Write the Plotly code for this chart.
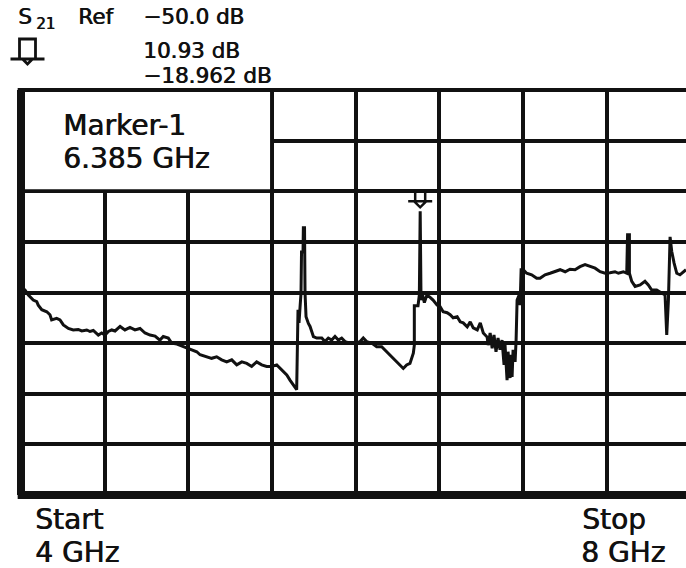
import plotly.graph_objects as go

# ---- data (S21 trace, 4-8 GHz) ----
freq_ghz = [
    4.000, 4.024, 4.044, 4.073, 4.094, 4.103, 4.124, 4.154, 4.173, 4.183,
    4.213, 4.233, 4.253, 4.283, 4.312, 4.342, 4.363, 4.393, 4.412, 4.432,
    4.462, 4.482, 4.502, 4.522, 4.542, 4.562, 4.592, 4.621, 4.651, 4.681,
    4.711, 4.741, 4.771, 4.801, 4.830, 4.850, 4.880, 4.900, 4.932, 4.970,
    5.010, 5.050, 5.070, 5.110, 5.139, 5.169, 5.199, 5.229, 5.259, 5.289,
    5.319, 5.349, 5.378, 5.408, 5.438, 5.468, 5.498, 5.528, 5.558, 5.588,
    5.607, 5.627, 5.647, 5.655, 5.661, 5.667, 5.673, 5.676, 5.685, 5.687,
    5.694, 5.697, 5.703, 5.717, 5.727, 5.737, 5.747, 5.767, 5.797, 5.816,
    5.836, 5.856, 5.876, 5.896, 5.916, 5.936, 5.966, 5.996, 6.026, 6.045,
    6.065, 6.095, 6.125, 6.155, 6.185, 6.215, 6.245, 6.265, 6.284, 6.304,
    6.324, 6.344, 6.350, 6.350, 6.372, 6.380, 6.385, 6.390, 6.398, 6.410,
    6.425, 6.443, 6.462, 6.486, 6.504, 6.522, 6.546, 6.564, 6.582, 6.606,
    6.624, 6.642, 6.666, 6.684, 6.702, 6.726, 6.744, 6.762, 6.785, 6.791,
    6.803, 6.815, 6.826, 6.838, 6.850, 6.862, 6.874, 6.886, 6.892, 6.904,
    6.910, 6.922, 6.928, 6.934, 6.940, 6.952, 6.958, 6.964, 6.976, 6.982,
    6.988, 7.001, 7.021, 7.051, 7.081, 7.101, 7.131, 7.161, 7.191, 7.221,
    7.251, 7.280, 7.310, 7.340, 7.370, 7.400, 7.430, 7.460, 7.490, 7.519,
    7.549, 7.569, 7.599, 7.619, 7.624, 7.635, 7.635, 7.649, 7.669, 7.699,
    7.728, 7.748, 7.768, 7.798, 7.828, 7.848, 7.858, 7.868, 7.878, 7.888,
    7.902, 7.918, 7.937, 7.957, 7.973,
]
s21_db = [
    -33.9, -34.5, -35.5, -36.5, -36.8, -37.5, -38.4, -38.8, -39.4, -40.4,
    -40.1, -40.4, -41.4, -42.1, -42.4, -42.3, -42.6, -42.4, -42.7, -42.5,
    -43.4, -43.0, -43.4, -42.7, -42.4, -42.6, -41.7, -42.4, -41.9, -42.4,
    -42.1, -43.0, -43.4, -43.6, -44.4, -43.7, -44.0, -45.0, -45.2, -45.7,
    -46.3, -46.7, -47.3, -47.7, -48.0, -47.7, -48.3, -48.7, -48.3, -49.3,
    -48.7, -49.0, -49.6, -48.7, -49.3, -49.6, -49.6, -49.3, -50.3, -51.3,
    -52.3, -53.3, -54.2, -38.4, -41.0, -38.0, -35.1, -27.0, -27.0, -22.2,
    -22.2, -35.1, -39.8, -41.1, -41.7, -42.7, -43.7, -44.0, -44.0, -44.7,
    -44.0, -44.4, -43.7, -44.4, -44.0, -44.7, -45.0, -45.0, -44.7, -44.0,
    -44.7, -45.0, -45.7, -45.7, -46.7, -47.7, -48.7, -49.3, -50.0, -49.3,
    -49.0, -47.0, -45.4, -37.6, -37.6, -35.5, -18.962, -36.5, -35.3, -37.0,
    -35.5, -35.9, -36.5, -37.5, -37.8, -38.8, -39.0, -39.4, -40.0, -39.8,
    -40.8, -41.0, -41.8, -40.8, -42.0, -42.4, -41.0, -43.0, -43.8, -45.4,
    -43.0, -46.0, -43.4, -46.7, -44.0, -46.3, -44.4, -49.3, -45.4, -52.3,
    -46.7, -51.9, -47.3, -51.7, -46.3, -48.7, -44.4, -36.5, -35.5, -37.5,
    -30.5, -30.5, -31.2, -31.5, -32.2, -32.2, -31.5, -31.2, -30.9, -30.5,
    -30.9, -30.4, -30.5, -29.9, -29.5, -29.9, -30.2, -30.9, -31.2, -31.1,
    -30.9, -31.2, -30.9, -31.2, -23.6, -23.6, -31.2, -32.8, -33.8, -33.5,
    -32.8, -33.5, -34.5, -34.5, -35.1, -35.5, -43.4, -36.5, -24.0, -26.9,
    -29.2, -31.2, -31.5, -30.9, -30.5,
]

marker_freq = 6.385
marker_db = -18.962
header_lines = ["−50.0 dB", "10.93 dB", "−18.962 dB"]
marker_lines = ["Marker-1", "6.385 GHz"]
start_label = ["Start", "4 GHz"]
stop_label = ["Stop", "8 GHz"]

# ---- layout geometry ----
W, H = 686, 568
L, T, B = 21, 90, 73
PW, PH = W - L, H - T - B
GHZ_PER_PX = 4.0 / 669.5
x_range = [4.0, 4.0 + PW * GHZ_PER_PX]
y_range = [-75, 5]
FONT = "DejaVu Sans"
INK = "#111111"
SHADOW = "0.7px 0 0 #111111"


def px_x(px):
    return (px - L) / PW


def px_y(py):
    return (H - B - py) / PH


fig = go.Figure()
fig.add_trace(go.Scatter(
    x=freq_ghz, y=s21_db, mode="lines",
    line=dict(color=INK, width=3),
    hoverinfo="skip", showlegend=False,
))

fig.update_layout(
    width=W, height=H,
    margin=dict(l=L, r=0, t=T, b=B, pad=0),
    paper_bgcolor="white", plot_bgcolor="white",
    xaxis=dict(range=x_range, showgrid=True, gridcolor=INK, gridwidth=4,
               tick0=4, dtick=0.5, showticklabels=False, ticks="",
               zeroline=False, showline=False, fixedrange=True),
    yaxis=dict(range=y_range, showgrid=True, gridcolor=INK, gridwidth=3.5,
               tick0=-75, dtick=10, showticklabels=False, ticks="",
               zeroline=False, showline=False, fixedrange=True),
    font=dict(family=FONT, color=INK),
)

# white marker read-out box over upper-left grid cells
fig.add_shape(type="rect", xref="x", yref="y", layer="between",
              x0=4.0, x1=5.5 - 0.012, y0=-15 + 0.4, y1=5,
              fillcolor="white", line=dict(width=0))
# frame
fig.add_shape(type="line", xref="paper", yref="paper", x0=0, x1=0, y0=0, y1=1,
              line=dict(color=INK, width=8))
fig.add_shape(type="line", xref="paper", yref="paper", x0=-0.005, x1=1, y0=0, y1=0,
              line=dict(color=INK, width=8))
fig.add_shape(type="line", xref="paper", yref="paper", x0=-0.005, x1=1, y0=1, y1=1,
              line=dict(color=INK, width=4))

# marker glyph above the marker point (pixel-sized, anchored at marker data)
glyph_small = "M -5,10 L -5,20 L 5,20 L 5,10 M -12,10 L 12,10 M -6,10 L 0,4 L 6,10"
fig.add_shape(type="path", xref="x", yref="y", xsizemode="pixel", ysizemode="pixel",
              xanchor=marker_freq, yanchor=marker_db, path=glyph_small,
              line=dict(color=INK, width=2.5), layer="above")
# marker glyph in the header
glyph_big = "M -8,0 L -8,20 L 8,20 L 8,0 M -17,0 L 17,0 M -5,0 L 0,-5 L 5,0"
fig.add_shape(type="path", xref="paper", yref="paper", xsizemode="pixel", ysizemode="pixel",
              xanchor=px_x(27.5), yanchor=px_y(59), path=glyph_big,
              line=dict(color=INK, width=2.8), layer="above")


def label(text, px, baseline, size):
    # place by baseline: DejaVu Sans ascent ~0.93 em above the baseline
    ptop = baseline - 0.93 * size - 0.5
    fig.add_annotation(text=text, xref="paper", yref="paper",
                       x=px_x(px), y=px_y(ptop), xanchor="left", yanchor="top",
                       showarrow=False,
                       font=dict(family=FONT, size=size, color=INK, shadow=SHADOW),
                       borderpad=0)


# header
label("S", 17, 23, 21.5)
label("21", 35, 28, 15)
label("Ref", 77, 23, 21.5)
label(header_lines[0], 142, 23, 21.5)
label(header_lines[1], 142, 57, 21.5)
label(header_lines[2], 142, 82, 21.5)

# marker read-out
label(marker_lines[0], 62, 135, 28)
label(marker_lines[1], 62, 168, 28)

# start / stop
label(start_label[0], 34, 529, 28)
label(start_label[1], 34, 562, 28)
label(stop_label[0], 581, 529, 28)
label(stop_label[1], 580, 562, 28)

fig.write_html("out.html")
